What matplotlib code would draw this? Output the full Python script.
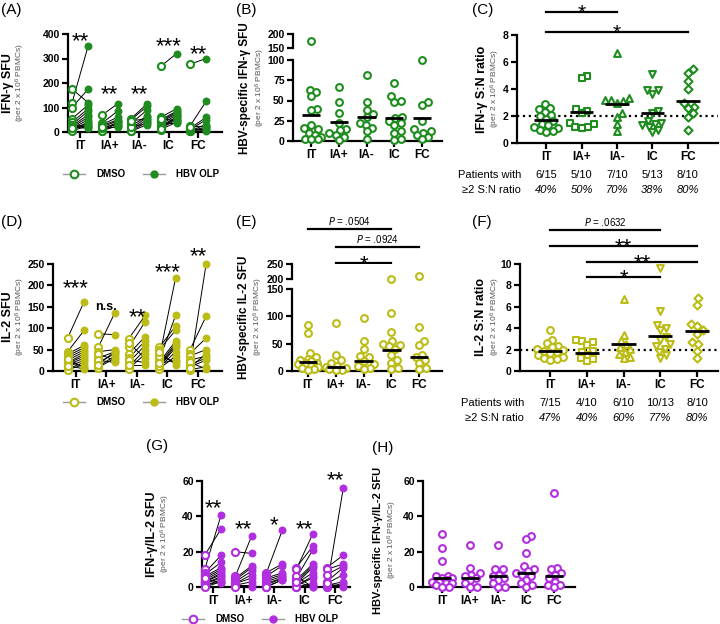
import matplotlib
matplotlib.use('Agg')
import matplotlib.pyplot as plt
import matplotlib.transforms as mtransforms
from matplotlib.lines import Line2D
import numpy as np

plt.rcParams['font.family'] = ['Liberation Sans', 'DejaVu Sans']
plt.rcParams['mathtext.default'] = 'regular'

groups = ['IT', 'IA+', 'IA-', 'IC', 'FC']

# (A) IFN-gamma SFU, paired DMSO -> HBV OLP
ifn_dmso = [[120, 175, 100, 55, 40, 30, 25, 20, 15, 10, 10, 5, 30, 20, 15],
            [68, 35, 30, 25, 20, 10, 5, 5, 15, 20],
            [55, 50, 35, 25, 15, 10, 5, 3, 20, 45],
            [268, 60, 50, 40, 30, 25, 20, 15, 10, 35, 45, 12, 55],
            [277, 25, 15, 10, 5, 5, 3, 8, 12, 20]]
ifn_olp = [[350, 120, 175, 110, 95, 85, 70, 60, 50, 40, 30, 25, 20, 15, 35],
           [115, 85, 60, 50, 45, 40, 35, 25, 20, 30],
           [115, 105, 90, 65, 60, 50, 40, 30, 35, 55],
           [320, 95, 85, 75, 70, 60, 55, 50, 40, 35, 80, 65, 45],
           [300, 125, 60, 50, 30, 20, 15, 10, 5, 25]]
ifn_stars = ['**', '**', '**', '***', '**']

# (B) HBV-specific IFN-gamma SFU
ifn_hbv = [[175, 63, 60, 55, 40, 38, 20, 16, 15, 10, 8, 5, 3, 2, 2],
           [67, 48, 35, 22, 15, 14, 10, 8, 5, 1],
           [81, 48, 38, 33, 30, 22, 20, 16, 12, 2],
           [71, 55, 50, 48, 30, 28, 25, 22, 20, 12, 10, 3, 1],
           [100, 48, 44, 25, 15, 12, 10, 8, 5, 3]]
ifn_hbv_mean = [32, 23, 30, 29, 28]

# (C) IFN-gamma S:N ratio
ifn_sn = [[2.9, 2.6, 2.5, 2.3, 2.1, 2.0, 1.8, 1.6, 1.4, 1.3, 1.2, 1.1, 1.0, 0.9, 0.85],
          [5.0, 4.8, 2.5, 2.4, 2.2, 1.5, 1.4, 1.2, 1.2, 1.1],
          [6.7, 3.3, 3.2, 3.2, 3.1, 3.0, 2.2, 1.9, 1.4, 0.9],
          [5.1, 3.9, 3.9, 3.6, 2.4, 2.2, 1.6, 1.5, 1.4, 1.3, 1.2, 1.0, 0.8],
          [5.5, 5.2, 4.6, 4.0, 3.0, 2.7, 2.6, 2.2, 1.9, 1.0]]
ifn_sn_mean = [1.7, 2.3, 2.9, 2.2, 3.1]
ifn_counts = ['6/15', '5/10', '7/10', '5/13', '8/10']
ifn_pct = ['40%', '50%', '70%', '38%', '80%']

# (D) IL-2 SFU, paired
il2_dmso = [[77, 45, 40, 35, 30, 25, 20, 18, 15, 10, 5, 3, 22, 28, 12],
            [87, 55, 45, 30, 20, 10, 8, 40, 25, 15],
            [75, 55, 40, 30, 20, 10, 5, 65, 25, 15],
            [55, 50, 30, 25, 20, 15, 10, 8, 5, 35, 45, 12, 18],
            [48, 40, 35, 25, 15, 10, 5, 3, 20, 8]]
il2_olp = [[162, 95, 60, 55, 50, 45, 40, 35, 30, 25, 20, 15, 10, 8, 5],
           [85, 135, 50, 45, 40, 35, 30, 25, 20, 45],
           [130, 115, 80, 70, 60, 50, 40, 30, 20, 15],
           [105, 95, 218, 130, 70, 65, 55, 45, 35, 20, 15, 60, 25],
           [128, 77, 50, 35, 30, 25, 250, 10, 5, 40]]
il2_stars = ['***', 'n.s.', '**', '***', '**']

# (E) HBV-specific IL-2 SFU
il2_hbv = [[85, 70, 33, 25, 22, 20, 18, 15, 15, 12, 10, 8, 5, 3, 2],
           [87, 30, 20, 15, 10, 8, 5, 3, 2, 1],
           [97, 55, 40, 28, 25, 18, 12, 10, 5, 3],
           [200, 106, 72, 55, 50, 48, 45, 40, 30, 20, 15, 5, 3],
           [210, 80, 55, 47, 30, 25, 20, 15, 5, 3]]
il2_hbv_mean = [17, 8, 18, 38, 25]

# (F) IL-2 S:N ratio
il2_sn = [[3.8, 2.9, 2.6, 2.3, 2.2, 2.1, 2.0, 1.9, 1.8, 1.7, 1.5, 1.3, 1.2, 1.1, 1.0],
          [2.9, 2.8, 2.7, 2.4, 1.9, 1.8, 1.5, 1.2, 1.1, 0.9],
          [6.7, 3.4, 2.9, 2.5, 2.2, 2.1, 1.8, 1.6, 1.3, 1.2],
          [9.6, 5.6, 4.3, 4.0, 3.8, 3.2, 2.9, 2.5, 2.3, 2.1, 1.8, 1.5, 1.2],
          [6.8, 6.2, 4.4, 4.2, 3.8, 3.5, 2.7, 2.5, 1.9, 1.2]]
il2_sn_mean = [1.9, 1.7, 2.5, 3.3, 3.7]
il2_counts = ['7/15', '4/10', '6/10', '10/13', '8/10']
il2_pct = ['47%', '40%', '60%', '77%', '80%']

# (G) IFN-gamma/IL-2 SFU, paired
dual_dmso = [[18, 10, 8, 7, 6, 5, 4, 3, 3, 2, 2, 1, 1, 0, 5],
             [20, 6, 5, 4, 3, 2, 2, 1, 1, 0],
             [8, 7, 6, 5, 4, 3, 2, 1, 0, 0],
             [11, 10, 5, 4, 3, 2, 2, 1, 1, 0, 0, 6, 3],
             [11, 10, 7, 3, 2, 1, 0, 0, 1, 2]]
dual_olp = [[33, 41, 18, 14, 11, 10, 9, 8, 7, 6, 5, 4, 3, 3, 2],
            [19, 29, 12, 11, 9, 7, 5, 3, 1, 0],
            [13, 32, 12, 8, 7, 6, 5, 5, 4, 4],
            [23, 30, 21, 13, 12, 11, 8, 6, 5, 2, 1, 0, 0],
            [18, 13, 12, 11, 7, 3, 56, 2, 1, 0]]
dual_stars = ['**', '**', '*', '**', '**']

# (H) HBV-specific IFN-gamma/IL-2 SFU
dual_hbv = [[30, 22, 15, 6, 6, 5, 5, 4, 3, 3, 2, 2, 1, 0, 0],
            [24, 11, 8, 7, 6, 5, 4, 2, 0, 0],
            [24, 10, 10, 7, 6, 5, 4, 2, 0, 0],
            [29, 27, 19, 12, 10, 9, 8, 7, 6, 4, 2, 1, 0],
            [53, 11, 10, 8, 7, 5, 3, 1, 1, 0]]
dual_hbv_mean = [5, 5, 6, 8, 6]

GREEN = '#1f8c1f'
YELLOW = '#bcbc16'
PURPLE = '#b12ee0'
SN_MARKERS = ['o', 's', '^', 'v', 'D']

W, H = 720, 624
fig = plt.figure(figsize=(W / 100, H / 100), dpi=100)


def px_axes(left, top, right, bottom):
    return fig.add_axes([left / W, 1 - bottom / H, (right - left) / W, (bottom - top) / H])


def style(ax, yticks, xlim, ylim, cats=True):
    ax.set_xlim(*xlim)
    ax.set_ylim(*ylim)
    for s in ['top', 'right']:
        ax.spines[s].set_visible(False)
    for s in ['left', 'bottom']:
        ax.spines[s].set_linewidth(1.6)
    ax.tick_params(width=1.6, length=4, pad=2)
    ax.set_yticks(yticks)
    ax.set_yticklabels([str(t) for t in yticks], fontweight='bold', fontsize=7.5)
    if cats:
        ax.set_xticks(range(len(groups)))
        ax.set_xticklabels(groups, fontweight='bold', fontsize=8.5)
    else:
        ax.spines['bottom'].set_visible(False)
        ax.set_xticks([])


def ylabel(x, y, main, x2, fs=9):
    fig.text(x / W, 1 - y / H, main, rotation=90, ha='center', va='center',
             fontsize=fs, fontweight='bold')
    fig.text(x2 / W, 1 - y / H, '(per 2 x 10$^{6}$ PBMCs)', rotation=90,
             ha='center', va='center', fontsize=6, color='#555555')


def panel_label(x, y, s):
    fig.text(x / W, 1 - y / H, s, ha='left', va='center', fontsize=11)


def star_text(ax, x, y, s, fs=16, lift=0.0):
    # y is where the asterisk glyph sits (centre), in axes fraction
    base = mtransforms.blended_transform_factory(ax.transData, ax.transAxes)
    tr = base + mtransforms.ScaledTranslation(0, (lift - 0.58 * fs) / 72, fig.dpi_scale_trans)
    ax.text(x, y, s, transform=tr, ha='center', va='baseline', fontsize=fs, clip_on=False)


def swarm_x(ax, x0, values, diam, maxw=0.36):
    pts = ax.transData.transform(np.column_stack([np.full(len(values), x0), values]))
    ys = pts[:, 1]
    unit = ax.transData.transform([(1, 0)])[0][0] - ax.transData.transform([(0, 0)])[0][0]
    lim = maxw * unit
    offs = np.zeros(len(values))
    placed = []
    for idx in np.argsort(ys):
        y = ys[idx]
        cands = [0.0, lim, -lim]
        for px_, py_ in placed:
            dy = abs(y - py_)
            if dy < diam:
                dx = np.sqrt(diam ** 2 - dy ** 2)
                cands += [px_ + dx, px_ - dx]
        cands = sorted([c for c in cands if abs(c) <= lim + 1e-6], key=abs)

        def gap(c):
            if not placed:
                return np.inf
            return min(np.hypot(c - px_, y - py_) for px_, py_ in placed)
        best = None
        for c in cands:
            if gap(c) >= diam - 1e-6:
                best = c
                break
        if best is None:
            best = max(cands, key=gap)
        offs[idx] = best
        placed.append((best, y))
    return x0 + offs / unit


def paired(ax, dmso, olp, color, stars, star_y):
    off = 0.27
    trans = mtransforms.blended_transform_factory(ax.transData, ax.transAxes)
    for i, (d, o) in enumerate(zip(dmso, olp)):
        for a, b in zip(d, o):
            ax.plot([i - off, i + off], [a, b], color='black', lw=0.7, zorder=1)
        ax.scatter([i - off] * len(d), d, s=26, facecolor='white', edgecolor=color,
                   linewidth=1.5, zorder=3, clip_on=False)
        ax.scatter([i + off] * len(o), o, s=22, color=color, zorder=3, clip_on=False)
        if stars[i] == 'n.s.':
            ax.text(i, star_y[i], stars[i], transform=trans, ha='center', va='center',
                    fontsize=9, fontweight='bold')
        else:
            star_text(ax, i, star_y[i], stars[i])


def legend(ax, color, x, y):
    h = [Line2D([], [], color='#999999', lw=1, marker='o', markersize=5.5,
                markerfacecolor='white', markeredgecolor=color, markeredgewidth=1.5),
         Line2D([], [], color='#999999', lw=1, marker='o', markersize=5,
                markerfacecolor=color, markeredgecolor=color)]
    ax.legend(h, ['DMSO', 'HBV OLP'], ncol=2, loc='center', frameon=False,
              bbox_to_anchor=(x / W, 1 - y / H), bbox_transform=fig.transFigure,
              prop={'weight': 'bold', 'size': 7}, handlelength=2.3,
              columnspacing=1.8, handletextpad=1.1)


def scatter_groups(axes_list, data, color, markers, diam=6.5, s=24):
    for i, vals in enumerate(data):
        for ax, lo, hi in axes_list:
            v = [x for x in vals if lo <= x <= hi]
            if not v:
                continue
            xs = swarm_x(ax, i, v, diam)
            ax.scatter(xs, v, s=s if markers[i] != 'D' else s * 0.7, marker=markers[i],
                       facecolor='white', edgecolor=color, linewidth=1.5,
                       zorder=3, clip_on=False)


def mean_lines(ax, means, half=0.33):
    for i, m in enumerate(means):
        ax.plot([i - half, i + half], [m, m], color='black', lw=2, zorder=4,
                solid_capstyle='butt')


def sig_bar(ax, i, j, yb, label, fs=16):
    trans = mtransforms.blended_transform_factory(ax.transData, ax.transAxes)
    ax.plot([i, j], [yb, yb], color='black', lw=1.6, transform=trans, clip_on=False)
    if label.startswith('*'):
        tr = trans + mtransforms.ScaledTranslation(0, (1.5 - 0.42 * fs) / 72, fig.dpi_scale_trans)
        ax.text((i + j) / 2, yb, label, transform=tr, ha='center', va='baseline', fontsize=fs)
    else:
        tr = trans + mtransforms.ScaledTranslation(0, 1.5 / 72, fig.dpi_scale_trans)
        ax.text((i + j) / 2, yb, label, transform=tr, ha='center', va='bottom', fontsize=7)


def patients(ax, counts, pcts, y1, y2, xright):
    trans = mtransforms.blended_transform_factory(ax.transData, ax.transAxes)
    for i, (c, p) in enumerate(zip(counts, pcts)):
        ax.text(i, y1, c, transform=trans, ha='center', va='center', fontsize=8)
        ax.text(i, y2, p, transform=trans, ha='center', va='center', fontsize=8, style='italic')
    tr2 = mtransforms.blended_transform_factory(fig.transFigure, ax.transAxes)
    ax.text(xright / W, y1, 'Patients with', transform=tr2, ha='right', va='center', fontsize=8)
    ax.text(xright / W, y2, '≥2 S:N ratio', transform=tr2, ha='right', va='center', fontsize=8)


# ---------------- (A)
axA = px_axes(68, 34, 222, 132)
style(axA, [0, 100, 200, 300, 400], (-0.41, 4.81), (0, 400))
paired(axA, ifn_dmso, ifn_olp, GREEN, ifn_stars, [1.0, 0.46, 0.46, 0.95, 0.86])
legend(axA, GREEN, 141, 174)
ylabel(8, 83, 'IFN-γ SFU', 20)
panel_label(1, 10, '(A)')

# ---------------- (B)
axB = px_axes(293, 60, 442, 141)
style(axB, [0, 25, 50, 75, 100], (-0.65, 4.72), (0, 100))
axBt = px_axes(293, 34, 442, 48)
style(axBt, [150, 200], (-0.65, 4.72), (150, 200), cats=False)
scatter_groups([(axB, 0, 100), (axBt, 150, 200)], ifn_hbv, GREEN, ['o'] * 5)
mean_lines(axB, ifn_hbv_mean)
ylabel(245, 88, 'HBV-specific IFN-γ SFU', 260, fs=8.5)
panel_label(236, 10, '(B)')

# ---------------- (C)
axC = px_axes(517, 35, 718, 143)
style(axC, [0, 2, 4, 6, 8], (-0.82, 4.85), (0, 8))
axC.axhline(2, color='black', ls=':', lw=1.6, zorder=2)
scatter_groups([(axC, 0, 8)], ifn_sn, GREEN, SN_MARKERS)
mean_lines(axC, ifn_sn_mean)
sig_bar(axC, 0, 2, 1.213, '*', 15)
sig_bar(axC, 0, 4, 1.028, '*', 15)
patients(axC, ifn_counts, ifn_pct, -0.296, -0.435, 521)
ylabel(482, 89, 'IFN-γ S:N ratio', 495)
panel_label(472, 10, '(C)')

# ---------------- (D)
axD = px_axes(53, 264, 222, 371)
style(axD, [0, 50, 100, 150, 200, 250], (-0.75, 4.79), (0, 250))
paired(axD, il2_dmso, il2_olp, YELLOW, il2_stars, [0.84, 0.6, 0.57, 0.99, 1.14])
legend(axD, YELLOW, 141, 402)
ylabel(8, 317, 'IL-2 SFU', 20)
panel_label(1, 222, '(D)')

# ---------------- (E)
axE = px_axes(292, 289, 442, 371)
style(axE, [0, 50, 100, 150], (-0.57, 4.82), (0, 150))
axEt = px_axes(292, 264, 442, 279)
style(axEt, [200, 250], (-0.57, 4.82), (200, 250), cats=False)
scatter_groups([(axE, 0, 150), (axEt, 200, 250)], il2_hbv, YELLOW, ['o'] * 5)
mean_lines(axE, il2_hbv_mean)
sig_bar(axE, 0, 3, 1.73, '$\\it{P}$ = .0504')
sig_bar(axE, 1, 4, 1.51, '$\\it{P}$ = .0924')
sig_bar(axE, 1, 3, 1.32, '*')
ylabel(244, 317, 'HBV-specific IL-2 SFU', 258, fs=8.5)
panel_label(236, 222, '(E)')

# ---------------- (F)
axF = px_axes(520, 264, 718, 371)
style(axF, [0, 2, 4, 6, 8, 10], (-0.82, 4.57), (0, 10))
axF.axhline(2, color='black', ls=':', lw=1.6, zorder=2)
scatter_groups([(axF, 0, 10)], il2_sn, YELLOW, SN_MARKERS)
mean_lines(axF, il2_sn_mean)
sig_bar(axF, 0, 3, 1.318, '$\\it{P}$ = .0632')
sig_bar(axF, 0, 4, 1.168, '**')
sig_bar(axF, 1, 4, 1.019, '**')
sig_bar(axF, 1, 3, 0.879, '*')
patients(axF, il2_counts, il2_pct, -0.30, -0.44, 524)
ylabel(481, 317, 'IL-2 S:N ratio', 495)
panel_label(472, 222, '(F)')

# ---------------- (G)
axG = px_axes(202, 481, 350, 587)
style(axG, [0, 20, 40, 60], (-0.36, 4.49), (0, 60))
paired(axG, dual_dmso, dual_olp, PURPLE, dual_stars, [0.81, 0.61, 0.65, 0.61, 1.07])
legend(axG, PURPLE, 260, 619)
ylabel(152, 534, 'IFN-γ/IL-2 SFU', 165)
panel_label(146, 446, '(G)')

# ---------------- (H)
axH = px_axes(423, 481, 575, 587)
style(axH, [0, 20, 40, 60], (-0.68, 4.75), (0, 60))
scatter_groups([(axH, 0, 60)], dual_hbv, PURPLE, ['o'] * 5)
mean_lines(axH, dual_hbv_mean)
ylabel(378, 540, 'HBV-specific IFN-γ/IL-2 SFU', 392, fs=8)
panel_label(372, 448, '(H)')

fig.savefig('out.png', dpi=100)
